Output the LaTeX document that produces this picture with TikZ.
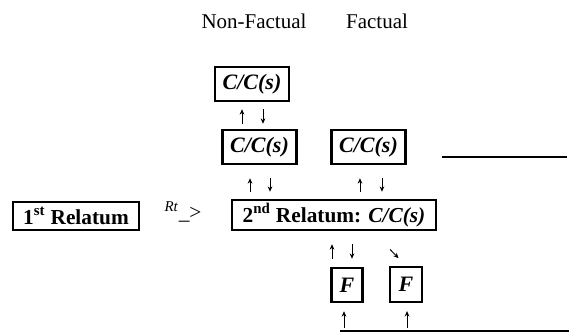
\documentclass[tikz,border=0pt]{standalone}
\usepackage{fontspec}
\setmainfont{Liberation Serif}
\usetikzlibrary{
    positioning,
    arrows.meta
    }

\begin{document}
\begin{tikzpicture}[x=0.75pt, y=-0.75pt]
\tikzset{frame/.style =
        {
            rectangle,
            line width=1.9pt,
            inner sep=0pt,
            font=\fontsize{16}{18}\selectfont\bfseries,
            draw
        }
}

\tikzset{cc/.style =
        {
            frame,
            minimum width=55.5pt,
            minimum height=25.5pt,
            font=\fontsize{16.5}{18}\selectfont\bfseries\itshape
        }
}

\tikzset{fbox/.style = { cc, minimum width=23pt } }

\tikzset{hdr/.style = { inner sep=0pt, font=\fontsize{15.75}{18}\selectfont } }

\tikzset{arr/.style = {
            line width=0.7pt,
            -{Stealth[length=4pt, width=3.5pt]}
        }
}

\tikzset{rule/.style = { line width=1.5pt } }

		\useasboundingbox (0,0) rectangle (569,333);

		\node[hdr] (nonfact) at (254,21) {Non-Factual};
		\node[hdr] (fact) at (377,21) {Factual};

		\node[cc] (cc1) at (252,84) {C/C(s)};
		\node[cc] (cc2) at (259.5,147) {C/C(s)};
		\node[cc] (cc3) at (368.5,147) {C/C(s)};

		\node[frame, minimum width=94.5pt, minimum height=21pt] (rel1) at (76,216) {1\textsuperscript{st} Relatum};
		\node[hdr, font=\fontsize{16}{18}\selectfont] (rt) at (183,212) {\textsuperscript{\textit{Rt}}\_>};
		\node[frame, minimum width=153pt, minimum height=22.5pt] (rel2) at (334,215) {2\textsuperscript{nd} Relatum: \textit{C/C(s)}};

		\node[fbox] (f1) at (347,285) {F};
		\node[fbox, minimum width=24pt, minimum height=26pt] (f2) at (406,284.5) {F};

		\coordinate (ruleA) at (442,157);
		\coordinate (ruleB) at (567,157);
		\coordinate (baseA) at (340,331);
		\coordinate (baseB) at (569,331);
		\draw [rule] (ruleA) -- (ruleB);
		\draw [rule] (baseA) -- (baseB);

		\foreach \hi / \lo / \up / \dn / \st / \sb in
			{cc1/cc2/-7.5pt/8.25pt/5.25pt/3.75pt,
				cc2/rel2/-7.1pt/7.9pt/9.75pt/5.25pt,
				cc3/rel2/-6.4pt/10.1pt/9.75pt/5.25pt,
				rel2/f1/-1.5pt/13.5pt/9.75pt/6pt}
			{
				\draw [arr, shorten <=\sb, shorten >=\st] ([xshift=\up]\hi.south |- \lo.north) -- ([xshift=\up]\hi.south);
				\draw [arr, shorten <=\st, shorten >=\sb] ([xshift=\dn]\hi.south) -- ([xshift=\dn]\hi.south |- \lo.north);
			}

		\draw [arr, shorten <=19pt, shorten >=8pt] ([xshift=28.9pt]rel2.south) -- (f2.north);

		\foreach \f / \dx in {f1/-2.25pt, f2/0.75pt}
			\draw [arr, shorten <=2pt, shorten >=6pt] ([xshift=\dx]\f.south |- baseA) -- ([xshift=\dx]\f.south);

	\end{tikzpicture}
\end{document}
